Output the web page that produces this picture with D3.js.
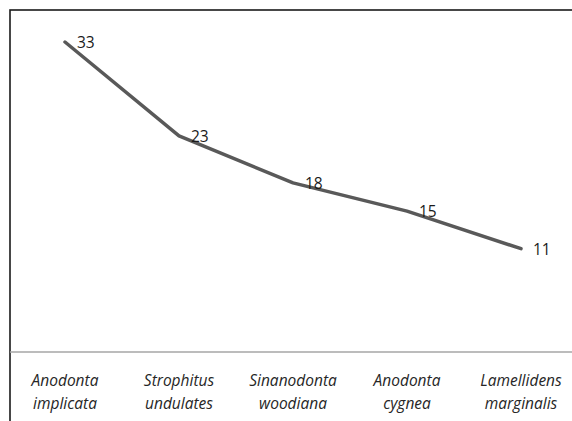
<!DOCTYPE html>
<html>
<head>
<meta charset="utf-8">
<script src="https://cdn.jsdelivr.net/npm/d3@7"></script>
<style>
  html, body { margin: 0; padding: 0; background: #fff; }
  svg { display: block; }
</style>
</head>
<body>
<svg id="chart" width="572" height="421"></svg>
<script>
// Species and their counts
const speciesLine1 = ["Anodonta", "Strophitus", "Sinanodonta", "Anodonta", "Lamellidens"];
const speciesLine2 = ["implicata", "undulates", "woodiana", "cygnea", "marginalis"];
const counts = [33, 23, 18, 15, 11];

const W = 572, H = 421;
const svg = d3.select("#chart");

// outer frame (top and left edges visible; the rest runs off the canvas)
svg.append("rect")
  .attr("x", 10).attr("y", 10)
  .attr("width", W + 10).attr("height", H + 10)
  .attr("fill", "#fff")
  .attr("stroke", "#1a1a1a").attr("stroke-width", 1.6);

const x = d3.scaleBand()
  .domain(d3.range(counts.length))
  .range([8, 578]);

const y = d3.scaleLinear()
  .domain([0, 33])
  .range([352, 42]);

// category axis line
svg.append("line")
  .attr("x1", 10).attr("x2", W)
  .attr("y1", y(0)).attr("y2", y(0))
  .attr("stroke", "#a6a6a6").attr("stroke-width", 1.5);

const cx = i => x(i) + x.bandwidth() / 2;

// category labels
const lab = svg.append("g")
  .attr("font-family", "'Open Sans', sans-serif")
  .attr("font-style", "italic")
  .attr("font-size", 15.5)
  .attr("fill", "#262626")
  .attr("text-anchor", "middle");
counts.forEach((_, i) => {
  lab.append("text").attr("x", cx(i)).attr("y", 386).text(speciesLine1[i]);
  lab.append("text").attr("x", cx(i)).attr("y", 409).text(speciesLine2[i]);
});

// series line
const line = d3.line()
  .x((d, i) => cx(i))
  .y(d => y(d))
  .curve(d3.curveLinear);

svg.append("path")
  .datum(counts)
  .attr("d", line)
  .attr("fill", "none")
  .attr("stroke", "#595959")
  .attr("stroke-width", 3.5)
  .attr("stroke-linecap", "round")
  .attr("stroke-linejoin", "round");

// value labels
svg.append("g")
  .attr("font-family", "'Open Sans', sans-serif")
  .attr("font-size", 15.5)
  .attr("fill", "#1a1a1a")
  .selectAll("text")
  .data(counts)
  .join("text")
  .attr("x", (d, i) => cx(i) + 12)
  .attr("y", d => y(d) + 6)
  .text(d => d);
</script>
</body>
</html>
